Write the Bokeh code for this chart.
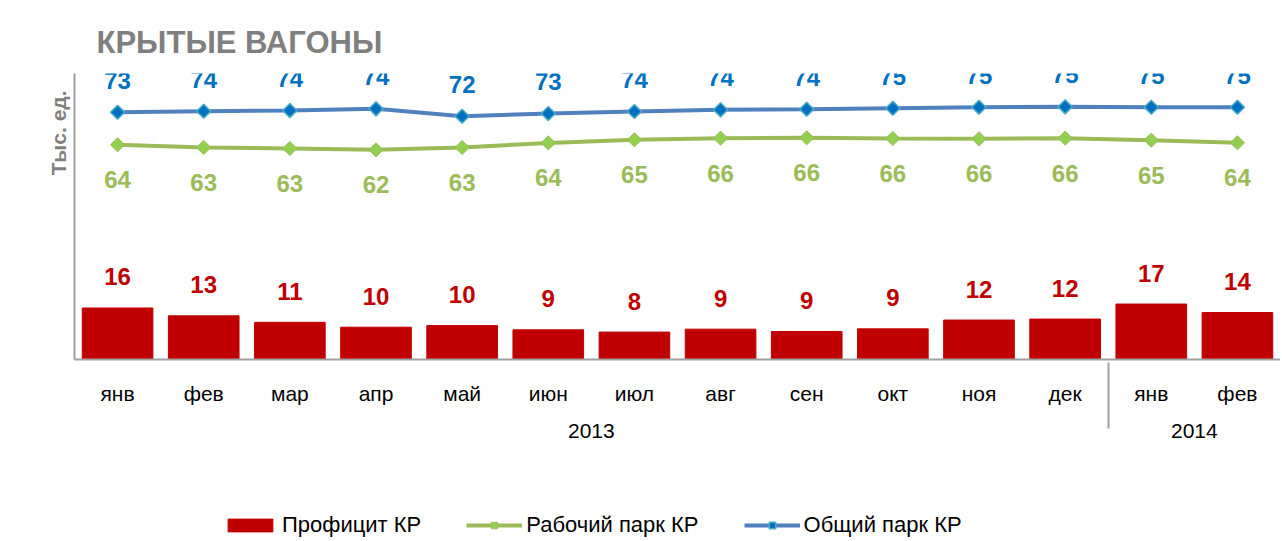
from math import pi
from bokeh.plotting import figure
from bokeh.layouts import column
from bokeh.models import (ColumnDataSource, FactorRange, Range1d, Legend, LegendItem, Title)
from bokeh.core.properties import value
from bokeh.embed import file_html
from bokeh.resources import INLINE

# ---- data ----
years = ["2013"] * 12 + ["2014"] * 2
months = ["янв", "фев", "мар", "апр", "май", "июн", "июл", "авг", "сен", "окт", "ноя", "дек", "янв", "фев"]
surplus = [15.8, 13.4, 11.4, 9.9, 10.4, 9.1, 8.4, 9.3, 8.6, 9.4, 12.1, 12.4, 17.0, 14.4]
working = [63.91, 63.13, 62.84, 62.45, 63.13, 64.45, 65.36, 65.83, 65.94, 65.74, 65.65, 65.83, 65.25, 64.49]
total = [73.35, 73.64, 73.85, 74.35, 72.2, 72.99, 73.57, 74.06, 74.23, 74.52, 74.81, 74.93, 74.81, 74.81]
series_names = ["Профицит КР", "Рабочий парк КР", "Общий парк КР"]
title_text = "КРЫТЫЕ ВАГОНЫ"
unit_text = "Тыс. ед."

factors = list(zip(years, months))
src = ColumnDataSource(dict(
    x=factors,
    surplus=surplus, working=working, total=total,
    surplus_lbl=[str(round(v)) for v in surplus],
    working_lbl=[str(round(v)) for v in working],
    total_lbl=[str(round(v)) for v in total],
))

FONT = "Liberation Sans"
RED = "#c00000"
GREEN_LINE = "#9bbb59"
GREEN_MARK = "#92d050"
GREEN_TXT = "#9bbb59"
BLUE_LINE = "#4f81bd"
BLUE_MARK = "#0070c0"
BLUE_EDGE = "#4bacc6"
BLUE_TXT = "#0070c0"
AXIS = "#a0a0a0"
GREY_TXT = "#7f7f7f"

W = 1280

p = figure(
    width=W, height=480,
    x_range=FactorRange(*factors, factor_padding=0, group_padding=0, range_padding=0),
    y_range=Range1d(0, 87.7),
    output_backend="svg", toolbar_location=None,
    min_border_left=74, min_border_right=0, min_border_top=73, min_border_bottom=121,
    background_fill_color="white", border_fill_color="white",
)
p.extra_y_ranges = {"lines": Range1d(1.6, 84.6)}
p.outline_line_color = None
p.xgrid.grid_line_color = None
p.ygrid.grid_line_color = None

# title
p.title.text = title_text
p.title.align = "left"
p.title.offset = 22
p.title.standoff = 28
p.title.text_font = FONT
p.title.text_font_size = "31px"
p.title.text_font_style = "bold"
p.title.text_color = GREY_TXT

# y axis: only the line
p.yaxis.major_tick_line_color = None
p.yaxis.minor_tick_line_color = None
p.yaxis.major_tick_out = 0
p.yaxis.major_label_standoff = 0
p.yaxis.major_label_text_font_size = "0px"
p.yaxis.major_label_text_color = None
p.yaxis.axis_line_color = AXIS
p.yaxis.axis_line_width = 2

p.add_layout(Title(text=unit_text, align="right", offset=17, standoff=2,
                   text_font=FONT, text_font_size="21px", text_font_style="bold",
                   text_color=GREY_TXT), "left")

# x axis: nested categorical
xa = p.xaxis[0]
xa.axis_line_color = AXIS
xa.axis_line_width = 2
xa.major_tick_line_color = None
xa.minor_tick_line_color = None
xa.major_label_text_font = FONT
xa.major_label_text_font_size = "21px"
xa.major_label_text_color = "black"
xa.major_label_standoff = 16
xa.group_text_font = FONT
xa.group_text_font_size = "21px"
xa.group_text_font_style = "normal"
xa.group_text_color = "black"
xa.separator_line_color = AXIS
xa.separator_line_width = 2

bars = p.vbar(x="x", top="surplus", bottom=0, width=0.82, source=src,
              fill_color=RED, line_color=RED)

p.line(x="x", y="working", source=src, y_range_name="lines",
       line_color=GREEN_LINE, line_width=4)
p.scatter(x="x", y="working", source=src, y_range_name="lines",
          marker="square", angle=pi / 4, size=10,
          fill_color=GREEN_MARK, line_color=GREEN_LINE, line_width=1)
p.line(x="x", y="total", source=src, y_range_name="lines",
       line_color=BLUE_LINE, line_width=4)
p.scatter(x="x", y="total", source=src, y_range_name="lines",
          marker="square", angle=pi / 4, size=10,
          fill_color=BLUE_MARK, line_color=BLUE_EDGE, line_width=1.5)

lbl_kw = dict(text_align="center", text_baseline="middle", text_font=value(FONT),
              text_font_style="bold", text_font_size="24px")
p.text(x="x", y="surplus", text="surplus_lbl", source=src, y_offset=-31,
       text_color=RED, **lbl_kw)
p.text(x="x", y="working", text="working_lbl", source=src, y_range_name="lines",
       y_offset=35, text_color=GREEN_TXT, **lbl_kw)
p.text(x="x", y="total", text="total_lbl", source=src, y_range_name="lines",
       y_offset=-32, text_color=BLUE_TXT, **lbl_kw)

# ---- legend strip (swatch holders carry no visible data) ----
q = figure(width=W, height=58, x_range=Range1d(0, 1), y_range=Range1d(0, 1),
           output_backend="svg", toolbar_location=None,
           x_axis_type=None, y_axis_type=None,
           min_border_left=0, min_border_right=0, min_border_top=0, min_border_bottom=0,
           background_fill_color="white", border_fill_color="white")
q.outline_line_color = None
q.xgrid.grid_line_color = None
q.ygrid.grid_line_color = None
NAN = [float("nan")]
lr_bar = q.vbar(x=NAN, top=NAN, width=0.5, fill_color=RED, line_color=RED)
lr_gl = q.line(x=NAN, y=NAN, line_color=GREEN_LINE, line_width=4)
lr_gm = q.scatter(x=NAN, y=NAN, marker="square", angle=pi / 4, size=10,
                  fill_color=GREEN_MARK, line_color=GREEN_LINE, line_width=1)
lr_bl = q.line(x=NAN, y=NAN, line_color=BLUE_LINE, line_width=4)
lr_bm = q.scatter(x=NAN, y=NAN, marker="square", angle=pi / 4, size=10,
                  fill_color=BLUE_MARK, line_color=BLUE_EDGE, line_width=1.5)

legend = Legend(items=[
    LegendItem(label=series_names[0], renderers=[lr_bar]),
    LegendItem(label=series_names[1], renderers=[lr_gl, lr_gm]),
    LegendItem(label=series_names[2], renderers=[lr_bl, lr_bm]),
], orientation="horizontal", location=(148, 0), padding=0, margin=0, spacing=45,
    label_standoff=4, glyph_width=56, glyph_height=16,
    label_text_font=FONT, label_text_font_size="22px", label_text_color="black",
    border_line_color=None, background_fill_alpha=0)
q.add_layout(legend)

layout = column(p, q, spacing=0)
open("out.html", "w").write(file_html(layout, INLINE))
